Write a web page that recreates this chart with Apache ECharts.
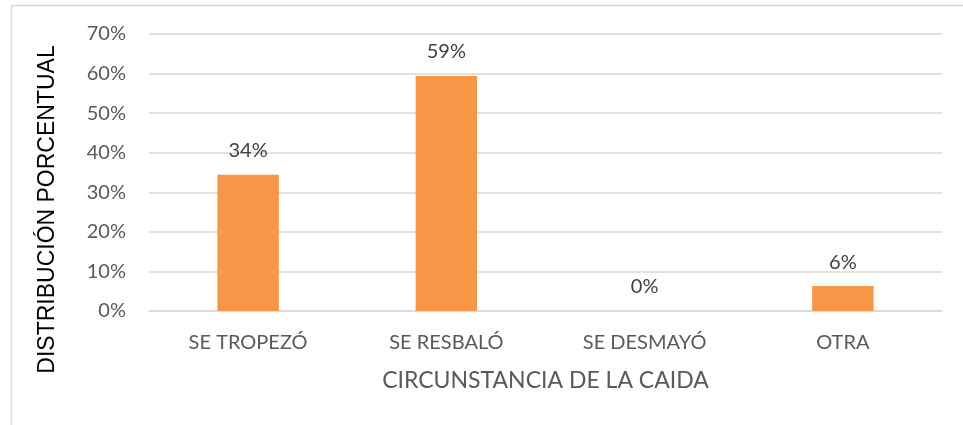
<html>
<head>
    <meta charset='utf-8' />
    <title>Circunstancia de la caida</title>
    <style>
        body { margin: 0; padding: 0; background: #fff; }
        #chart { width: 963px; height: 425px; }
    </style>
</head>
<body>
    <div id='chart'></div>
    <script src="https://cdn.jsdelivr.net/npm/echarts@6/dist/echarts.min.js"></script>
    <script type="text/javascript">
        var categories = ['SE TROPEZÓ', 'SE RESBALÓ', 'SE DESMAYÓ', 'OTRA'];
        var values = [34.4, 59.4, 0, 6.3];
        var yTicks = [0, 10, 20, 30, 40, 50, 60, 70];

        var myChart = echarts.init(document.getElementById('chart'));
        var txt = "Lato, 'Open Sans', sans-serif";

        myChart.setOption({
            animation: false,
            // marco gris del grafico
            graphic: [{
                type: 'rect',
                shape: { x: 11.5, y: 5.5, width: 1000, height: 500 },
                style: { fill: 'none', stroke: '#d9d9d9', lineWidth: 1.5 }
            }],
            grid: { left: 149, right: 21, top: 34, bottom: 114 },
            xAxis: {
                type: 'category',
                data: categories,
                axisLine: { lineStyle: { color: '#d9d9d9', width: 1.5 } },
                axisTick: { show: false },
                axisLabel: { color: '#595959', fontSize: 20, fontFamily: txt, margin: 22 },
                name: 'CIRCUNSTANCIA DE LA CAIDA',
                nameLocation: 'middle',
                nameGap: 58,
                nameTextStyle: { color: '#595959', fontSize: 23, fontFamily: txt }
            },
            yAxis: {
                type: 'value',
                min: yTicks[0],
                max: yTicks[yTicks.length - 1],
                interval: 10,
                axisLine: { show: false },
                axisTick: { show: false },
                splitLine: { lineStyle: { color: '#d9d9d9', width: 1.5 } },
                axisLabel: {
                    color: '#595959', fontSize: 20, fontFamily: txt, margin: 23,
                    formatter: function (v) { return v + '%'; }
                },
                name: 'DISTRIBUCIÓN PORCENTUAL',
                nameLocation: 'middle',
                nameGap: 90,
                nameTextStyle: {
                    color: '#000', fontSize: 23, fontFamily: "'Liberation Sans', Arial, sans-serif",
                    padding: [0, 74, 0, 0]
                }
            },
            series: [{
                type: 'bar',
                data: values,
                barWidth: '31%',
                itemStyle: { color: '#f79646' },
                label: {
                    show: true,
                    position: 'top',
                    distance: 14,
                    color: '#404040',
                    fontSize: 20,
                    fontFamily: txt,
                    formatter: function (p) { return Math.round(p.value) + '%'; }
                }
            }]
        });
    </script>
</body>
</html>
